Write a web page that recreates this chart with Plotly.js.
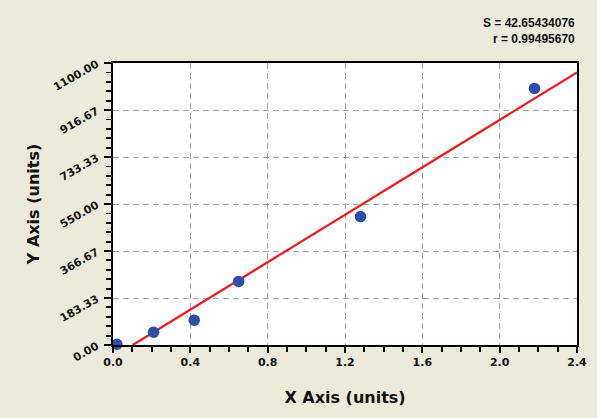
<!DOCTYPE html>
<html>
<head>
<meta charset="utf-8">
<script src="https://cdn.plot.ly/plotly-3.0.1.min.js"></script>
<style>html,body{margin:0;padding:0;background:#fff;}#chart{width:600px;height:418px;}</style>
</head>
<body>
<div id="chart"></div>
<script>
// Data
const pointX = [0.02, 0.21, 0.42, 0.65, 1.28, 2.18];
const pointY = [3, 50, 97, 248, 501, 1001];
const lineX = [0.102, 2.4];
const lineY = [0, 1063];
const yTickVals = [0, 183.33, 366.67, 550, 733.33, 916.67, 1100];
const yTickText = ['0.00', '183.33', '366.67', '550.00', '733.33', '916.67', '1100.00'];
const xTickVals = [0, 0.4, 0.8, 1.2, 1.6, 2.0, 2.4];
const xTickText = ['0.0', '0.4', '0.8', '1.2', '1.6', '2.0', '2.4'];
const statS = 'S = 42.65434076';
const statR = 'r = 0.99495670';

const tickFont = {family: 'DejaVu Sans', size: 11, color: '#111', weight: 'bold'};
const titleFont = {family: 'DejaVu Sans', size: 16, color: '#111', weight: 'bold'};

const traces = [
  {x: lineX, y: lineY, mode: 'lines', line: {color: '#f01a1a', width: 2.2}, hoverinfo: 'skip'},
  {x: pointX, y: pointY, mode: 'markers', cliponaxis: false,
   marker: {color: '#2d4fa8', size: 11.5, line: {width: 0}}}
];

const layout = {
  width: 600, height: 418,
  margin: {l: 113, r: 23, t: 63, b: 73},
  paper_bgcolor: '#ecebdb',
  plot_bgcolor: '#ffffff',
  showlegend: false,
  xaxis: {
    range: [0, 2.4], tickmode: 'array', tickvals: xTickVals, ticktext: xTickText,
    tickfont: tickFont, ticks: 'outside', ticklen: 6, tickwidth: 1.8, tickcolor: '#000',
    showline: true, linecolor: '#000', linewidth: 2, mirror: true,
    showgrid: true, gridcolor: '#a8a8a8', gridwidth: 1, griddash: '6px,4px',
    zeroline: false,
    minor: {dtick: 0.1, ticks: 'outside', ticklen: 5, tickwidth: 1.8, tickcolor: '#000', showgrid: false},
    title: {text: 'X Axis (units)', font: titleFont, standoff: 24}
  },
  yaxis: {
    range: [0, 1100], tickmode: 'array', tickvals: yTickVals, ticktext: yTickText,
    tickangle: -30, tickfont: tickFont, ticks: 'outside', ticklen: 7, tickwidth: 1.8, tickcolor: '#000',
    ticklabelstandoff: 5,
    showline: true, linecolor: '#000', linewidth: 2, mirror: true,
    showgrid: true, gridcolor: '#a8a8a8', gridwidth: 1, griddash: '6px,4px',
    zeroline: false,
    minor: {dtick: 36.6667, ticks: 'outside', ticklen: 5, tickwidth: 1.8, tickcolor: '#000', showgrid: false},
    title: {text: 'Y Axis (units)', font: titleFont, standoff: 8}
  },
  annotations: [
    {xref: 'paper', yref: 'paper', x: 1, y: 1 + (63 - 23) / 282, xanchor: 'right', yanchor: 'middle',
     text: statS, showarrow: false, font: {family: 'Liberation Sans', size: 12, color: '#111', weight: 'bold'}},
    {xref: 'paper', yref: 'paper', x: 1, y: 1 + (63 - 39) / 282, xanchor: 'right', yanchor: 'middle',
     text: statR, showarrow: false, font: {family: 'Liberation Sans', size: 12, color: '#111', weight: 'bold'}}
  ],
  shapes: [
    {type: 'rect', xref: 'paper', yref: 'paper', x0: 1 + 20 / 464, x1: 1.1, y0: -0.5, y1: 1.5,
     fillcolor: '#ffffff', line: {width: 0}, layer: 'below'}
  ]
};

Plotly.newPlot('chart', traces, layout, {displayModeBar: false, staticPlot: true});
</script>
</body>
</html>
